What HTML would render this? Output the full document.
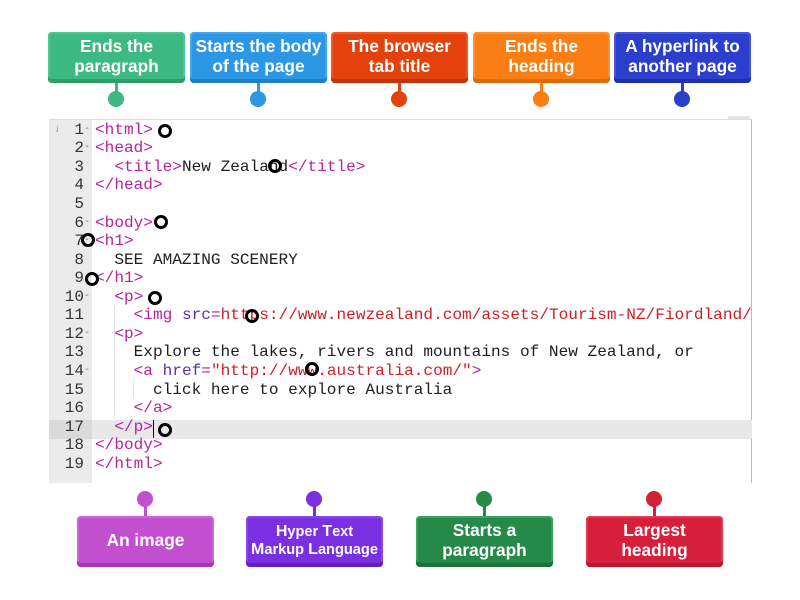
<!DOCTYPE html>
<html><head><meta charset="utf-8">
<style>
html,body{margin:0;padding:0;background:#fff;width:800px;height:600px;overflow:hidden;position:relative;font-family:"Liberation Sans",sans-serif;}
.box{position:absolute;width:137px;height:51px;border-radius:4px;color:#fff;font-weight:bold;font-size:17.3px;line-height:19.5px;display:flex;align-items:center;justify-content:center;text-align:center;box-sizing:border-box;padding-bottom:2px;}
.stem{position:absolute;width:3px;}
.dot{position:absolute;width:16px;height:16px;border-radius:50%;}
.editor{position:absolute;left:49px;top:119px;width:703px;height:364px;background:#fff;border-top:1px solid #ddd;border-right:1px solid #bbb;box-sizing:border-box;}
.gutter{position:absolute;left:49px;top:120px;width:43px;height:363px;background:#ebebeb;}
.ln{position:absolute;left:49px;width:35px;text-align:right;font-family:"Liberation Mono",monospace;font-size:16px;color:#333;height:18.56px;line-height:18.56px;}
.fold{position:absolute;left:84px;font-family:"Liberation Mono",monospace;font-size:10px;color:#777;height:18.56px;line-height:18.56px;}
.code{position:absolute;left:95px;font-family:"Liberation Mono",monospace;font-size:16.1px;color:#1e1e1e;white-space:pre;height:18.56px;line-height:18.56px;}
.t{color:#b8239e;}
.a{color:#5a32a3;}
.s{color:#cf1f26;}
.ring{position:absolute;width:8px;height:8px;border:3px solid #000;border-radius:50%;background:transparent;}
</style></head><body>

<!-- top labels -->
<div class="box" style="left:48px;top:32px;background:#3db984;box-shadow:inset 0 -4px 0 #2e9d6c, inset 0 0 0 2px #52c493;">Ends the<br>paragraph</div>
<div class="box" style="left:190px;top:32px;background:#2c97e5;box-shadow:inset 0 -4px 0 #1f7fc7, inset 0 0 0 2px #45a6ec;">Starts the body<br>of the page</div>
<div class="box" style="left:331px;top:32px;background:#e3420d;box-shadow:inset 0 -4px 0 #c2340a, inset 0 0 0 2px #ee5a26;">The browser<br>tab title</div>
<div class="box" style="left:473px;top:32px;background:#fa7e13;box-shadow:inset 0 -4px 0 #e06a08, inset 0 0 0 2px #fc9236;">Ends the<br>heading</div>
<div class="box" style="left:614px;top:32px;background:#2b3fcc;box-shadow:inset 0 -4px 0 #2031ad, inset 0 0 0 2px #4457d8;">A hyperlink to<br>another page</div>

<div class="stem" style="left:115px;top:83px;height:14px;background:#3db984;"></div>
<div class="dot" style="left:108px;top:91px;background:#3db984;"></div>
<div class="stem" style="left:257px;top:83px;height:14px;background:#2c97e5;"></div>
<div class="dot" style="left:250px;top:91px;background:#2c97e5;"></div>
<div class="stem" style="left:398px;top:83px;height:14px;background:#e3420d;"></div>
<div class="dot" style="left:391px;top:91px;background:#e3420d;"></div>
<div class="stem" style="left:540px;top:83px;height:14px;background:#fa7e13;"></div>
<div class="dot" style="left:533px;top:91px;background:#fa7e13;"></div>
<div class="stem" style="left:681px;top:83px;height:14px;background:#2b3fcc;"></div>
<div class="dot" style="left:674px;top:91px;background:#2b3fcc;"></div>

<!-- editor -->
<div class="editor"></div>
<div class="gutter"></div>
<div style="position:absolute;left:728px;top:116px;width:22px;height:3px;background:#e4e4e4;"></div>
<!-- active line 17 -->
<div style="position:absolute;left:92px;top:420px;width:660px;height:18.56px;background:#e8e8e8;"></div>
<div style="position:absolute;left:49px;top:420px;width:43px;height:18.56px;background:#dadada;"></div>
<!-- indent guides -->
<div style="position:absolute;left:114px;top:306px;width:1px;height:112px;background:#e2e2e2;"></div>
<div style="position:absolute;left:133px;top:380px;width:1px;height:19px;background:#e2e2e2;"></div>
<div style="position:absolute;left:56px;top:124px;font-size:9px;font-style:italic;color:#888;font-family:'Liberation Serif',serif;">i</div>

<div class="ln" style="top:120.7px">1</div><div class="fold" style="top:120.7px">-</div>
<div class="ln" style="top:139.3px">2</div><div class="fold" style="top:139.3px">-</div>
<div class="ln" style="top:157.8px">3</div>
<div class="ln" style="top:176.4px">4</div>
<div class="ln" style="top:194.9px">5</div>
<div class="ln" style="top:213.5px">6</div><div class="fold" style="top:213.5px">-</div>
<div class="ln" style="top:232.1px">7</div><div class="fold" style="top:232.1px">-</div>
<div class="ln" style="top:250.6px">8</div>
<div class="ln" style="top:269.2px">9</div>
<div class="ln" style="top:287.7px">10</div><div class="fold" style="top:287.7px">-</div>
<div class="ln" style="top:306.3px">11</div>
<div class="ln" style="top:324.9px">12</div><div class="fold" style="top:324.9px">-</div>
<div class="ln" style="top:343.4px">13</div>
<div class="ln" style="top:362.0px">14</div><div class="fold" style="top:362.0px">-</div>
<div class="ln" style="top:380.5px">15</div>
<div class="ln" style="top:399.1px">16</div>
<div class="ln" style="top:417.7px">17</div>
<div class="ln" style="top:436.2px">18</div>
<div class="ln" style="top:454.8px">19</div>

<div class="code" style="top:120.7px"><span class="t">&lt;html&gt;</span></div>
<div class="code" style="top:139.3px"><span class="t">&lt;head&gt;</span></div>
<div class="code" style="top:157.8px">  <span class="t">&lt;title&gt;</span>New Zealand<span class="t">&lt;/title&gt;</span></div>
<div class="code" style="top:176.4px"><span class="t">&lt;/head&gt;</span></div>
<div class="code" style="top:213.5px"><span class="t">&lt;body&gt;</span></div>
<div class="code" style="top:232.1px"><span class="t">&lt;h1&gt;</span></div>
<div class="code" style="top:250.6px">  SEE AMAZING SCENERY</div>
<div class="code" style="top:269.2px"><span class="t">&lt;/h1&gt;</span></div>
<div class="code" style="top:287.7px">  <span class="t">&lt;p&gt;</span></div>
<div class="code" style="top:306.3px;width:657px;overflow:hidden;">    <span class="t">&lt;img</span> <span class="a">src</span><span class="t">=</span><span class="s">https://www.newzealand.com/assets/Tourism-NZ/Fiordland/</span></div>
<div class="code" style="top:324.9px">  <span class="t">&lt;p&gt;</span></div>
<div class="code" style="top:343.4px">    Explore the lakes, rivers and mountains of New Zealand, or</div>
<div class="code" style="top:362.0px">    <span class="t">&lt;a</span> <span class="a">href</span><span class="t">=</span><span class="s">"http://www.australia.com/"</span><span class="t">&gt;</span></div>
<div class="code" style="top:380.5px">      click here to explore Australia</div>
<div class="code" style="top:399.1px">    <span class="t">&lt;/a&gt;</span></div>
<div class="code" style="top:417.7px">  <span class="t">&lt;/p&gt;</span></div>
<div class="code" style="top:436.2px"><span class="t">&lt;/body&gt;</span></div>
<div class="code" style="top:454.8px"><span class="t">&lt;/html&gt;</span></div>
<!-- cursor -->
<div style="position:absolute;left:153px;top:420px;width:1px;height:18px;background:#000;"></div>

<!-- drop target rings -->
<div class="ring" style="left:158px;top:124px;"></div>
<div class="ring" style="left:268px;top:159px;"></div>
<div class="ring" style="left:154px;top:215px;"></div>
<div class="ring" style="left:81px;top:233px;"></div>
<div class="ring" style="left:85px;top:272px;"></div>
<div class="ring" style="left:148px;top:291px;"></div>
<div class="ring" style="left:245px;top:309px;"></div>
<div class="ring" style="left:305px;top:362px;"></div>
<div class="ring" style="left:158px;top:423px;"></div>

<!-- bottom labels -->
<div class="stem" style="left:144px;top:500px;height:17px;background:#c24fd0;"></div>
<div class="dot" style="left:137px;top:491px;background:#c24fd0;"></div>
<div class="stem" style="left:313px;top:500px;height:17px;background:#7a2fe0;"></div>
<div class="dot" style="left:306px;top:491px;background:#7a2fe0;"></div>
<div class="stem" style="left:483px;top:500px;height:17px;background:#25894a;"></div>
<div class="dot" style="left:476px;top:491px;background:#25894a;"></div>
<div class="stem" style="left:653px;top:500px;height:17px;background:#d61f3b;"></div>
<div class="dot" style="left:646px;top:491px;background:#d61f3b;"></div>

<div class="box" style="left:77px;top:516px;background:#c24fd0;box-shadow:inset 0 -4px 0 #a637b6, inset 0 0 0 2px #cd67d9;">An image</div>
<div class="box" style="left:246px;top:516px;background:#7a2fe0;box-shadow:inset 0 -4px 0 #6320c4, inset 0 0 0 2px #8a46e6;font-size:14.6px;line-height:17px;"><span><span style="font-size:16px">H</span>yper <span style="font-size:16px">T</span>ext<br><span style="font-size:16px">M</span>arkup <span style="font-size:16px">L</span>anguage</span></div>
<div class="box" style="left:416px;top:516px;background:#25894a;box-shadow:inset 0 -4px 0 #1b723c, inset 0 0 0 2px #36a45c;">Starts a<br>paragraph</div>
<div class="box" style="left:586px;top:516px;background:#d61f3b;box-shadow:inset 0 -4px 0 #b8162f, inset 0 0 0 2px #e23a52;">Largest<br>heading</div>

</body></html>
